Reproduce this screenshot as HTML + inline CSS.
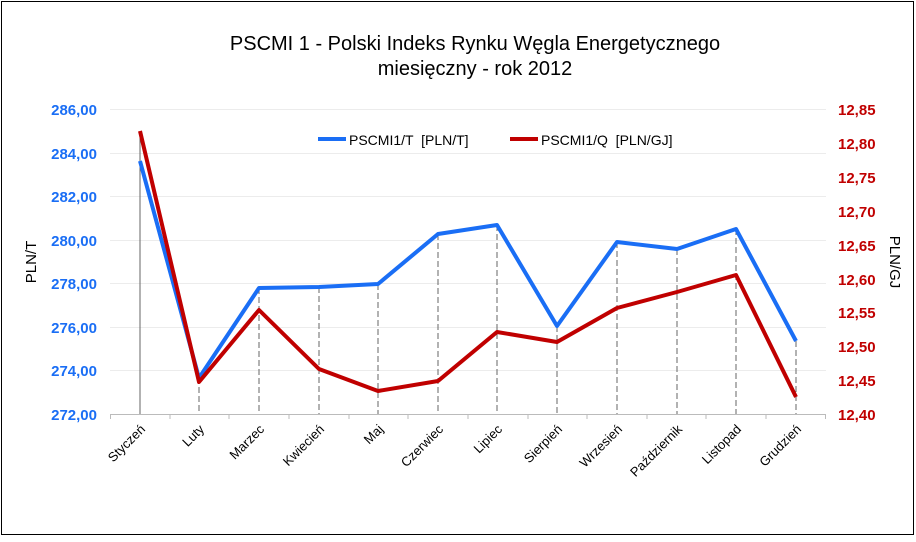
<!DOCTYPE html><html><head><meta charset="utf-8"><style>body{margin:0;background:#fff}</style></head><body>
<svg width="916" height="537" xmlns="http://www.w3.org/2000/svg" font-family="Liberation Sans, Arial, sans-serif">
<rect x="0" y="0" width="916" height="537" fill="#fff"/>
<rect x="1.5" y="1.5" width="912" height="533" fill="none" stroke="#000" stroke-width="1"/>
<text x="475" y="50" font-size="20" text-anchor="middle">PSCMI 1 - Polski Indeks Rynku Węgla Energetycznego</text>
<text x="475" y="75" font-size="20" text-anchor="middle">miesięczny - rok 2012</text>
<g stroke="#ececec" stroke-width="1">
<line x1="110" x2="826" y1="109.5" y2="109.5"/><line x1="110" x2="826" y1="153.5" y2="153.5"/><line x1="110" x2="826" y1="196.5" y2="196.5"/><line x1="110" x2="826" y1="240.5" y2="240.5"/><line x1="110" x2="826" y1="283.5" y2="283.5"/><line x1="110" x2="826" y1="327.5" y2="327.5"/><line x1="110" x2="826" y1="370.5" y2="370.5"/>
</g>
<line x1="110" x2="826" y1="414.5" y2="414.5" stroke="#bbb"/>
<g stroke="#bbb"><line x1="110.5" x2="110.5" y1="414" y2="419"/><line x1="170" x2="170" y1="414" y2="419"/><line x1="229" x2="229" y1="414" y2="419"/><line x1="289" x2="289" y1="414" y2="419"/><line x1="349" x2="349" y1="414" y2="419"/><line x1="408" x2="408" y1="414" y2="419"/><line x1="468" x2="468" y1="414" y2="419"/><line x1="528" x2="528" y1="414" y2="419"/><line x1="587" x2="587" y1="414" y2="419"/><line x1="647" x2="647" y1="414" y2="419"/><line x1="706" x2="706" y1="414" y2="419"/><line x1="766" x2="766" y1="414" y2="419"/><line x1="825.5" x2="825.5" y1="414" y2="419"/></g>
<g stroke="#666" stroke-dasharray="6,3">
<line x1="140" x2="140" y1="131" y2="414" stroke-dasharray="none"/>
<line x1="199" x2="199" y1="378" y2="414"/><line x1="259" x2="259" y1="288" y2="414"/><line x1="319" x2="319" y1="287" y2="414"/><line x1="378" x2="378" y1="284" y2="414"/><line x1="438" x2="438" y1="234" y2="414"/><line x1="497" x2="497" y1="225" y2="414"/><line x1="557" x2="557" y1="326" y2="414"/><line x1="617" x2="617" y1="242" y2="414"/><line x1="677" x2="677" y1="249" y2="414"/><line x1="736" x2="736" y1="229" y2="414"/><line x1="796" x2="796" y1="341" y2="414"/>
</g>
<polyline fill="none" stroke="#1a6ef5" stroke-width="4" stroke-linejoin="round" points="140,161 199,378 259,288 319,287 378,284 438,234 497,225 557,326 617,242 677,249 736,229 796,341"/>
<polyline fill="none" stroke="#c00000" stroke-width="4" stroke-linejoin="round" points="140,131 199,382 259,310 319,369 378,391 438,381 497,332 557,342 617,308 677,292 736,275 796,397"/>
<g font-size="15" font-weight="bold" fill="#1a6ef5" text-anchor="end">
<text x="97" y="115">286,00</text><text x="97" y="159">284,00</text><text x="97" y="202">282,00</text><text x="97" y="246">280,00</text><text x="97" y="289">278,00</text><text x="97" y="333">276,00</text><text x="97" y="376">274,00</text><text x="97" y="420">272,00</text>
</g>
<g font-size="15" font-weight="bold" fill="#c00000">
<text x="838" y="115">12,85</text><text x="838" y="149">12,80</text><text x="838" y="183">12,75</text><text x="838" y="217">12,70</text><text x="838" y="251">12,65</text><text x="838" y="285">12,60</text><text x="838" y="318">12,55</text><text x="838" y="352">12,50</text><text x="838" y="386">12,45</text><text x="838" y="420">12,40</text>
</g>
<text transform="translate(36,262) rotate(-90)" font-size="15" text-anchor="middle">PLN/T</text>
<text transform="translate(890,262) rotate(90)" font-size="15" text-anchor="middle">PLN/GJ</text>
<g font-size="13" text-anchor="end">
<text transform="translate(146,430) rotate(-45)">Styczeń</text>
<text transform="translate(205,430) rotate(-45)">Luty</text>
<text transform="translate(265,430) rotate(-45)">Marzec</text>
<text transform="translate(325,430) rotate(-45)">Kwiecień</text>
<text transform="translate(384,430) rotate(-45)">Maj</text>
<text transform="translate(444,430) rotate(-45)">Czerwiec</text>
<text transform="translate(503,430) rotate(-45)">Lipiec</text>
<text transform="translate(563,430) rotate(-45)">Sierpień</text>
<text transform="translate(623,430) rotate(-45)">Wrzesień</text>
<text transform="translate(683,430) rotate(-45)">Październik</text>
<text transform="translate(742,430) rotate(-45)">Listopad</text>
<text transform="translate(802,430) rotate(-45)">Grudzień</text>
</g>
<line x1="318" x2="346" y1="139" y2="139" stroke="#1a6ef5" stroke-width="4"/>
<text x="349" y="145" font-size="14" xml:space="preserve" style="white-space:pre">PSCMI1/T  [PLN/T]</text>
<line x1="510" x2="538" y1="139" y2="139" stroke="#c00000" stroke-width="4"/>
<text x="541" y="145" font-size="14" xml:space="preserve" style="white-space:pre">PSCMI1/Q  [PLN/GJ]</text>
</svg>
</body></html>
